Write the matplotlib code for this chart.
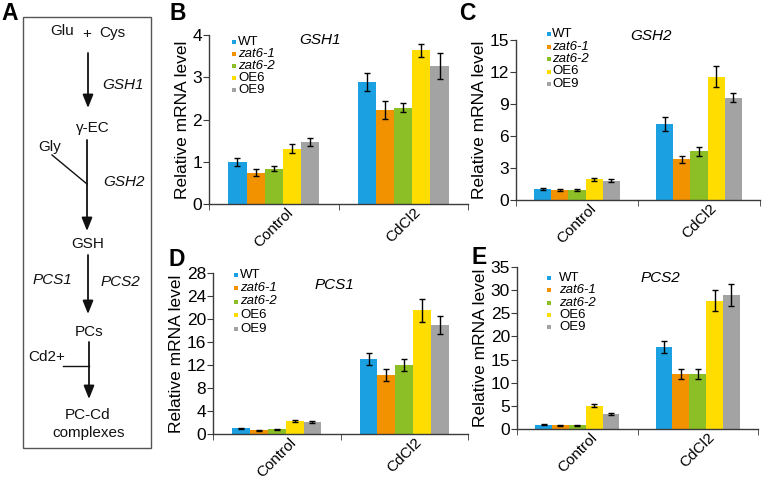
"""
Panel figure: glutathione / phytochelatin pathway (A) and
qRT-PCR of GSH1, GSH2, PCS1, PCS2 in WT, zat6 mutants and ZAT6 overexpressors (B-E).
"""

import numpy as np
import matplotlib
matplotlib.use("Agg")
import matplotlib.pyplot as plt
from matplotlib.patches import Rectangle

plt.rcParams["font.family"] = ["Liberation Sans", "DejaVu Sans"]

W, H = 762, 480  # figure size in pixels

conditions = ["Control", "CdCl2"]
lines = ["WT", "zat6-1", "zat6-2", "OE6", "OE9"]
line_italic = [False, True, True, False, False]
colors = ["#1BA1E2", "#F39200", "#8CBF26", "#FFDD00", "#A3A3A3"]

# rows: Control, CdCl2 ; columns: WT, zat6-1, zat6-2, OE6, OE9
gsh1_mean = [[1.00, 0.74, 0.84, 1.31, 1.47], [2.89, 2.22, 2.28, 3.64, 3.27]]
gsh1_err = [[0.09, 0.08, 0.06, 0.10, 0.10], [0.21, 0.21, 0.10, 0.15, 0.30]]
gsh2_mean = [[1.00, 0.95, 0.97, 1.95, 1.80], [7.10, 3.80, 4.55, 11.55, 9.60]]
gsh2_err = [[0.10, 0.10, 0.10, 0.15, 0.15], [0.65, 0.35, 0.45, 1.00, 0.45]]
pcs1_mean = [[1.00, 0.65, 0.80, 2.25, 2.15], [13.1, 10.3, 12.0, 21.6, 19.0]]
pcs1_err = [[0.12, 0.10, 0.10, 0.15, 0.15], [1.1, 1.0, 1.05, 2.0, 1.5]]
pcs2_mean = [[1.00, 0.90, 0.90, 5.10, 3.30], [17.8, 11.9, 11.9, 27.7, 28.9]]
pcs2_err = [[0.15, 0.10, 0.10, 0.30, 0.25], [1.3, 1.15, 1.1, 2.3, 2.4]]

gsh1_ticks = [0, 1, 2, 3, 4]
gsh2_ticks = [0, 3, 6, 9, 12, 15]
pcs1_ticks = [0, 4, 8, 12, 16, 20, 24, 28]
pcs2_ticks = [0, 5, 10, 15, 20, 25, 30, 35]

AXIS_COLOR = "#3a3a3a"


def add_axes_px(fig, left, right, y0, ytop):
    """Axes placed by pixel edges (y measured from the top of the figure)."""
    return fig.add_axes([left / W, 1 - y0 / H, (right - left) / W, (y0 - ytop) / H])


def bar_panel(ax, mean, err, ticks):
    mean = np.asarray(mean)
    err = np.asarray(err)
    x = np.arange(len(conditions))
    width = 0.14
    for i in range(len(lines)):
        ax.bar(x + (i - 2) * width, mean[:, i], width, color=colors[i],
               yerr=err[:, i], capsize=2.5,
               error_kw=dict(elinewidth=1.0, capthick=1.0, ecolor="black"))
    ax.set_xlim(-0.5, len(conditions) - 0.5)
    ax.set_ylim(0, ticks[-1])
    ax.set_yticks(ticks)
    ax.set_xticks(x)
    ax.set_xticklabels(conditions, rotation=45, fontsize=11)
    ax.set_xticks(np.arange(len(conditions) + 1) - 0.5, minor=True)
    ax.tick_params(axis="x", which="major", length=0, pad=1)
    ax.tick_params(axis="x", which="minor", length=4, color=AXIS_COLOR, direction="out")
    ax.tick_params(axis="y", labelsize=12.5, length=4, color=AXIS_COLOR, pad=1)
    ax.set_ylabel("Relative mRNA level", fontsize=12.5, labelpad=2)
    for side in ["top", "right"]:
        ax.spines[side].set_visible(False)
    for side in ["left", "bottom"]:
        ax.spines[side].set_color(AXIS_COLOR)
        ax.spines[side].set_linewidth(1.0)
    ax.set_facecolor("none")


fig = plt.figure(figsize=(W / 100, H / 100), dpi=100)

ax_b = add_axes_px(fig, 209, 468, 204, 35)
bar_panel(ax_b, gsh1_mean, gsh1_err, gsh1_ticks)
ax_c = add_axes_px(fig, 516, 760, 200, 40)
bar_panel(ax_c, gsh2_mean, gsh2_err, gsh2_ticks)
ax_d = add_axes_px(fig, 213, 468, 434, 273.3)
bar_panel(ax_d, pcs1_mean, pcs1_err, pcs1_ticks)
ax_e = add_axes_px(fig, 517, 758, 429.3, 266.7)
bar_panel(ax_e, pcs2_mean, pcs2_err, pcs2_ticks)

# overlay in pixel coordinates for the pathway, panel letters and keys
ov = fig.add_axes([0, 0, 1, 1])
ov.set_xlim(0, W)
ov.set_ylim(H, 0)
ov.axis("off")

# --- panel A: pathway ---
ov.add_patch(Rectangle((23, 17), 128, 431, fill=False, edgecolor="#555555", lw=1.0))
txt = dict(ha="center", va="center", fontsize=11, color="#111111")
ov.text(62, 31, "Glu", **txt)
ov.text(87, 34, "+", **txt)
ov.text(112, 33, "Cys", **txt)
ov.text(93, 128, "γ-EC", **txt)
ov.text(50, 147, "Gly", **txt)
ov.text(88, 244, "GSH", **txt)
ov.text(89, 332, "PCs", **txt)
ov.text(47, 357, "Cd2+", **txt)
ov.text(88, 415, "PC-Cd", **txt)
ov.text(89, 433, "complexes", **txt)
ov.text(123, 85, "GSH1", style="italic", **txt)
ov.text(124, 182, "GSH2", style="italic", **txt)
ov.text(52, 280, "PCS1", style="italic", **txt)
ov.text(120, 282, "PCS2", style="italic", **txt)

arrow = dict(arrowstyle="-|>,head_length=0.8,head_width=0.32", color="#111111",
             lw=1.3, shrinkA=0, shrinkB=0, mutation_scale=10)
for x0, y_start, y_end in [(88, 53, 108), (87, 140, 231), (88, 255, 314), (89, 342, 399)]:
    ov.annotate("", xy=(x0, y_end), xytext=(x0, y_start), arrowprops=arrow)
ov.plot([52, 87], [155, 184], color="#111111", lw=1.0)
ov.plot([63, 89], [366, 366], color="#111111", lw=1.0)

# --- panel letters ---
for letter, (lx, ly) in {"A": (10, 14), "B": (178, 14), "C": (467, 13),
                         "D": (177, 260), "E": (479, 258)}.items():
    ov.text(lx, ly, letter, ha="center", va="center", fontsize=16.5, fontweight="bold")

# --- gene names ---
for name, (gx, gy) in {"GSH1": (320, 40), "GSH2": (651, 36),
                       "PCS1": (334, 285), "PCS2": (660, 278)}.items():
    ov.text(gx, gy, name, ha="center", va="center", fontsize=11, style="italic")

# --- keys ---
keys = [(234, 238, 42, 12.0), (548.5, 552, 34, 12.5),
        (236, 240, 274.5, 13.5), (549, 559, 278, 12.3)]
for mx, tx, y0, dy in keys:
    for i, lab in enumerate(lines):
        y = y0 + i * dy
        ov.add_patch(Rectangle((mx - 2, y - 2), 4, 4, color=colors[i], lw=0))
        ov.text(tx, y, lab, ha="left", va="center", fontsize=9.5,
                style="italic" if line_italic[i] else "normal")

fig.savefig("out.png", dpi=100)
